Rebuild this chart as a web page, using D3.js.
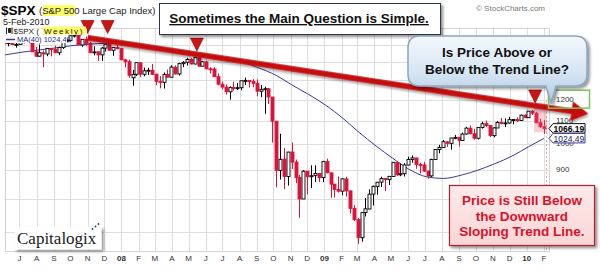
<!DOCTYPE html>
<html>
<head>
<meta charset="utf-8">
<title>$SPX weekly</title>
<script src="https://cdnjs.cloudflare.com/ajax/libs/d3/7.8.5/d3.min.js"></script>
<style>
  body { margin: 0; background: #fff; }
  svg { display: block; font-family: "Liberation Sans", Arial, sans-serif; }
</style>
</head>
<body>
<svg id="chart" width="600" height="271"></svg>
<script>
// weekly bars, one per week (monday), jun 2007 .. feb 2010
const firstWeek = new Date(2007, 5, 4);
const opens = [1536,1509,1533,1502,1504,1531,1553,1534,1459,1433,1453,1446,1479,1474,1453,1484,1526,1527,1557,1562,1500,1536,1509,1454,1459,1441,1481,1505,1468,1484,1478,
  1412,1401,1312,1331,1395,1331,1350,1353,1331,1293,1288,1330,1315,1370,1333,1390,1398,1414,1388,1425,1376,1400,1361,1360,1318,1278,1263,1239,1261,1258,1260,1296,1298,1292,1283,1242,1251,1255,1213,1099,899,941,877,969,930,873,800,896,876,880,888,873,
  932,890,850,832,826,868,827,770,735,683,757,768,816,842,857,870,866,877,929,883,887,919,940,946,921,919,896,879,940,979,987,1010,1004,1026,1029,1016,1043,1068,1044,1025,1071,1088,1080,1036,1069,1093,1091,1091,1106,1106,1102,1126,
  1115,1145,1136,1092,1074];
const highs = [1540,1538,1540,1514,1532,1555,1555,1547,1488,1503,1466,1480,1481,1496,1489,1530,1538,1561,1576,1565,1536,1552,1521,1492,1460,1488,1508,1523,1485,1500,1478,
  1417,1413,1355,1396,1396,1368,1367,1388,1335,1321,1341,1357,1381,1380,1395,1404,1423,1422,1440,1427,1406,1405,1370,1370,1336,1292,1277,1267,1291,1285,1298,1313,1300,1305,1303,1274,1265,1255,1213,1099,1044,985,970,1007,940,883,900,896,918,918,888,935,
  943,891,851,877,870,876,827,780,740,758,803,832,845,857,876,871,878,930,933,925,926,951,956,946,928,931,898,943,980,998,1018,1013,1027,1039,1029,1049,1074,1080,1065,1071,1097,1102,1081,1072,1100,1113,1112,1119,1107,1117,1129,1130,
  1145,1150,1142,1110,1104];
const lows = [1487,1492,1500,1484,1503,1510,1529,1458,1430,1430,1370,1433,1432,1450,1439,1476,1516,1521,1546,1500,1489,1492,1450,1438,1406,1406,1460,1467,1435,1475,1411,
  1370,1312,1270,1322,1317,1320,1327,1329,1273,1257,1256,1313,1312,1330,1324,1370,1379,1386,1386,1373,1373,1359,1335,1317,1272,1252,1225,1200,1245,1248,1247,1274,1261,1263,1217,1212,1133,1179,1007,839,866,833,845,904,853,741,800,815,837,857,857,857,
  888,804,805,821,812,808,754,731,666,672,745,767,779,814,840,826,847,875,879,878,877,918,928,905,888,893,869,875,940,964,986,990,978,1021,991,1015,1040,1041,1019,1020,1066,1073,1030,1029,1069,1085,1073,1088,1085,1095,1102,1114,
  1115,1127,1090,1071,1044];
const closes = [1507.7,1532.9,1502.6,1503.4,1530.4,1552.5,1534.1,1458.9,1433.1,1453.6,1445.9,1479.4,1473.9,1453.6,1484.3,1525.8,1526.8,1557.6,1561.8,1500.6,1535.3,1509.7,1453.7,1458.7,1440.7,1481.1,1504.7,1467.9,1484.5,1478.5,1411.6,
  1401.0,1325.2,1330.6,1395.4,1331.3,1349.9,1353.1,1330.6,1293.4,1288.1,1329.5,1315.2,1370.4,1332.8,1390.3,1397.8,1413.9,1388.3,1425.4,1375.9,1400.4,1360.7,1360.0,1317.9,1278.4,1262.9,1239.5,1260.7,1257.8,1260.3,1296.3,1298.2,1292.2,1282.8,1242.3,1251.7,1255.1,1213.3,1099.2,899.2,940.6,876.8,968.8,930.0,873.3,800.0,896.2,876.1,879.7,887.9,872.8,931.8,
  890.4,850.1,831.9,825.9,868.6,826.8,770.0,735.1,683.4,756.6,768.5,815.9,842.5,856.6,869.6,866.2,877.5,929.2,882.9,887.0,919.1,940.1,946.2,921.2,918.9,896.4,879.1,940.4,979.3,987.5,1010.5,1004.1,1026.1,1028.9,1016.4,1042.7,1068.3,1044.4,1025.2,1071.5,1087.7,1079.6,1036.2,1069.3,1093.5,1091.4,1091.5,1106.0,1106.4,1102.5,1126.5,1115.1,
  1144.9,1136.0,1091.8,1073.9,1066.19];

// MA(40)
const maDates = ["2007-06-04","2007-07-02","2007-08-06","2007-09-03","2007-10-01","2007-11-05","2007-12-03","2008-01-07","2008-02-04","2008-03-03","2008-04-07","2008-05-05","2008-06-02","2008-07-07","2008-08-04","2008-09-01","2008-10-06","2008-11-03","2008-12-01","2009-01-05","2009-02-02","2009-03-02","2009-04-06","2009-05-04","2009-06-01","2009-07-06","2009-08-03","2009-09-07","2009-10-05","2009-11-02","2009-12-07","2010-01-04","2010-02-01"];
const maValues = [1440,1455,1470,1482,1495,1505,1510,1508,1497,1480,1455,1440,1432,1418,1400,1370,1325,1275,1230,1170,1115,1055,990,945,905,875,870,883,900,922,955,990,1024.49];

const gridTicks = [700, 800, 900, 1000, 1100, 1200, 1300, 1400, 1500];
const yLabels = [900, 1000, 1100, 1200]; // the rest sit under the boxes
const monthLetters = ["J","F","M","A","M","J","J","A","S","O","N","D"];

// hand drawn annotations (date, price)
const trendStart = {date: "2007-11-01", price: 1545};
const trendEnd = {date: "2010-04-22", price: 1133};
const peakMarks = [
  {date: "2007-11-01", price: 1572},
  {date: "2007-12-07", price: 1572},
  {date: "2008-05-16", price: 1463},
  {date: "2010-01-16", price: 1184}
];

const RED = "#dc143c";
const parse = d3.timeParse("%Y-%m-%d");
const svg = d3.select("#chart");
const plot = {left: 5, right: 549, top: 28, bottom: 251};

const x = d3.scaleTime()
  .domain([new Date(2007, 6, 2), new Date(2010, 1, 1)])
  .range([20, 544]);
const y = d3.scaleLog()
  .domain([700, 1500])
  .range([231.7, 45.0]);

const defs = svg.append("defs");
defs.append("clipPath").attr("id", "clip")
  .append("rect")
  .attr("x", plot.left).attr("y", plot.top)
  .attr("width", plot.right - plot.left).attr("height", plot.bottom - plot.top);

function shadow(id, dx, dy, sd, op) {
  defs.append("filter").attr("id", id)
    .attr("x", "-20%").attr("y", "-20%").attr("width", "140%").attr("height", "150%")
    .append("feDropShadow")
    .attr("dx", dx).attr("dy", dy).attr("stdDeviation", sd)
    .attr("flood-color", "#000").attr("flood-opacity", op);
}
shadow("sh", 2, 2, 1.5, 0.45);
shadow("shLine", 1, 2, 1.2, 0.35);

const blue = defs.append("linearGradient").attr("id", "blueGrad")
  .attr("x1", 0).attr("y1", 0).attr("x2", 0).attr("y2", 1);
blue.append("stop").attr("offset", "0%").attr("stop-color", "#f3f8fd");
blue.append("stop").attr("offset", "55%").attr("stop-color", "#d6e5f3");
blue.append("stop").attr("offset", "100%").attr("stop-color", "#aec8e2");

const pink = defs.append("linearGradient").attr("id", "pinkGrad")
  .attr("x1", 0).attr("y1", 0).attr("x2", 0).attr("y2", 1);
pink.append("stop").attr("offset", "0%").attr("stop-color", "#fdeaea");
pink.append("stop").attr("offset", "100%").attr("stop-color", "#fbd6d6");

// grid
const months = d3.timeMonth.range(new Date(2007, 5, 1), new Date(2010, 2, 1))
  .filter(d => x(d) > plot.left && x(d) < plot.right);
const grid = svg.append("g");
grid.selectAll("line.v").data(months).join("line")
  .attr("x1", d => Math.round(x(d)) + 0.5).attr("x2", d => Math.round(x(d)) + 0.5)
  .attr("y1", plot.top).attr("y2", plot.bottom)
  .attr("stroke", "#dedede").attr("stroke-width", 1);
grid.selectAll("line.h").data(gridTicks).join("line")
  .attr("x1", plot.left).attr("x2", plot.right)
  .attr("y1", d => Math.round(y(d)) + 0.5).attr("y2", d => Math.round(y(d)) + 0.5)
  .attr("stroke", "#dedede").attr("stroke-width", 1);

svg.append("rect")
  .attr("x", plot.left + 0.5).attr("y", plot.top + 0.5)
  .attr("width", plot.right - plot.left).attr("height", plot.bottom - plot.top)
  .attr("fill", "none").attr("stroke", "#a8a8a8").attr("stroke-dasharray", "1,1");

// x labels
svg.append("g").selectAll("text").data(months.filter(d => x(d) < plot.right - 2)).join("text")
  .attr("x", d => x(d)).attr("y", 261)
  .attr("text-anchor", "middle")
  .attr("font-size", 8)
  .attr("font-weight", d => d.getMonth() === 0 ? "bold" : "normal")
  .attr("fill", "#333")
  .text(d => d.getMonth() === 0 ? d3.timeFormat("%y")(d) : monthLetters[d.getMonth()]);

// y labels
svg.append("g").selectAll("text").data(yLabels).join("text")
  .attr("x", 556).attr("y", d => y(d) + 2)
  .attr("font-size", 8).attr("fill", "#333")
  .text(d => d);

const chart = svg.append("g").attr("clip-path", "url(#clip)");

// today line
chart.append("line")
  .attr("x1", 546.5).attr("x2", 546.5)
  .attr("y1", 100).attr("y2", plot.bottom)
  .attr("stroke", "#f2a4ad").attr("stroke-dasharray", "2,2");

// moving average
const ma = maDates.map((d, i) => ({date: parse(d), v: maValues[i]}));
chart.append("path").datum(ma)
  .attr("fill", "none").attr("stroke", "#3b3b9a").attr("stroke-width", 1)
  .attr("d", d3.line().x(d => x(d.date)).y(d => y(d.v)).curve(d3.curveMonotoneX));

// candles
const weeks = d3.timeMonday.range(firstWeek, d3.timeDay.offset(firstWeek, 7 * closes.length));
const bars = weeks.map((d, i) => ({
  date: d, o: opens[i], h: highs[i], l: lows[i], c: closes[i],
  prev: i ? closes[i - 1] : opens[i]
}));
const col = d => d.c >= d.prev ? "#000" : RED;
const cx = d => Math.round(x(d.date)) + 0.5;

chart.selectAll("line.wick").data(bars).join("line")
  .attr("x1", cx).attr("x2", cx)
  .attr("y1", d => y(d.h)).attr("y2", d => y(d.l))
  .attr("stroke", col).attr("stroke-width", 1);
chart.selectAll("rect.body").data(bars).join("rect")
  .attr("x", d => cx(d) - 1.5).attr("width", 3)
  .attr("y", d => y(Math.max(d.o, d.c)))
  .attr("height", d => Math.max(1, Math.abs(y(d.o) - y(d.c))))
  .attr("fill", d => d.c >= d.o ? "#fff" : col(d))
  .attr("stroke", col).attr("stroke-width", 0.9);

// highlight on the last weeks
chart.append("rect")
  .attr("x", x(new Date(2010, 0, 14))).attr("width", 547 - x(new Date(2010, 0, 14)))
  .attr("y", y(1185)).attr("height", y(1050) - y(1185))
  .attr("fill", "#f06070").attr("opacity", 0.3);

// trend line with arrow
const tx0 = x(parse(trendStart.date)), ty0 = y(trendStart.price);
const tx1 = x(parse(trendEnd.date)), ty1 = y(trendEnd.price);
const ang = Math.atan2(ty1 - ty0, tx1 - tx0) * 180 / Math.PI;
const len = Math.hypot(tx1 - tx0, ty1 - ty0);
const trend = svg.append("g")
  .attr("transform", `translate(${tx0},${ty0}) rotate(${ang})`)
  .attr("filter", "url(#shLine)");
trend.append("line")
  .attr("x1", 0).attr("y1", 0).attr("x2", len - 15).attr("y2", 0)
  .attr("stroke", "#c4100f").attr("stroke-width", 5.5);
trend.append("path")
  .attr("d", `M${len - 17},-10 L${len},0 L${len - 17},10 Z`)
  .attr("fill", "#c4100f");

// peak markers
svg.append("g").selectAll("path").data(peakMarks).join("path")
  .attr("transform", d => `translate(${x(parse(d.date))},${y(d.price)})`)
  .attr("d", "M-6.5,-13 L6.5,-13 L0,0 Z")
  .attr("fill", "#cc1414").attr("stroke", "#8a0000").attr("stroke-width", 0.6);

// last price labels
const last = bars[bars.length - 1];
function priceTag(v, yy, opts) {
  const g = svg.append("g");
  g.append("path")
    .attr("d", `M549,${yy} L553,${yy - 5} H${opts.w} V${yy + 4.5} H553 Z`)
    .attr("fill", "#fff").attr("stroke", opts.stroke).attr("stroke-width", 1);
  g.append("text").attr("x", 553.5).attr("y", yy + 3.2)
    .attr("font-size", 8.5).attr("font-weight", opts.bold ? "bold" : "normal")
    .attr("fill", opts.fill).text(d3.format(".2f")(v));
}
priceTag(last.c, y(last.c), {w: 585, stroke: "#111", fill: "#000", bold: true});
priceTag(maValues[maValues.length - 1], y(maValues[maValues.length - 1]), {w: 585, stroke: "#3b3b9a", fill: "#222255", bold: false});

// green box round 1200
svg.append("rect")
  .attr("x", 548.5).attr("y", y(1200) - 9.5).attr("width", 41).attr("height", 18)
  .attr("fill", "none").attr("stroke", "#7cc55c").attr("stroke-width", 1.5);

// title
svg.append("text").attr("x", 1).attr("y", 14.5)
  .attr("font-size", 13.5).attr("font-weight", "bold").text("$SPX");
svg.append("rect").attr("x", 43).attr("y", 5).attr("width", 32).attr("height", 11).attr("fill", "#fdfd6a");
svg.append("text").attr("x", 39).attr("y", 14).attr("font-size", 9.5).attr("fill", "#222")
  .text("(S&P 500 Large Cap Index)");
svg.append("text").attr("x", 3).attr("y", 25).attr("font-size", 9).attr("fill", "#222").text("5-Feb-2010");
svg.append("text").attr("x", 476).attr("y", 11).attr("font-size", 8).attr("fill", "#777").text("\u00a9 StockCharts.com");

// legend
const leg = svg.append("g");
leg.append("rect").attr("x", 5).attr("y", 28.5).attr("width", 82).attr("height", 6.5).attr("fill", "#fff");
leg.append("rect").attr("x", 5).attr("y", 35).attr("width", 62).attr("height", 8).attr("fill", "#fff");
leg.append("rect").attr("x", 43).attr("y", 26.5).attr("width", 43).attr("height", 8).attr("fill", "#fdfd6a");
leg.append("path").attr("d", "M6.5,27.5 V34 M8.5,28.5 h2 v4 h-2 Z M12,27.5 V34").attr("stroke", "#222").attr("stroke-width", 1).attr("fill", "#222");
leg.append("text").attr("x", 13.5).attr("y", 33.5).attr("font-size", 8).attr("fill", "#222")
  .text("$SPX (");
leg.append("text").attr("x", 44).attr("y", 33.5).attr("font-size", 8).attr("fill", "#222")
  .attr("letter-spacing", 1.6).text("Weekly)");
leg.append("line").attr("x1", 6).attr("x2", 15).attr("y1", 39.5).attr("y2", 39.5).attr("stroke", "#3b3b9a").attr("stroke-width", 1.5);
leg.append("text").attr("x", 17).attr("y", 42).attr("font-size", 7.5).attr("fill", "#2b2b88")
  .text("MA(40) 1024.49");

// headline box
svg.append("rect").attr("x", 159.5).attr("y", 3.5).attr("width", 281).attr("height", 31)
  .attr("fill", "#fff").attr("stroke", "#2d3446").attr("stroke-width", 1).attr("filter", "url(#sh)");
svg.append("text").attr("x", 299).attr("y", 23).attr("text-anchor", "middle")
  .attr("font-size", 13.5).attr("font-weight", "bold").attr("text-decoration", "underline")
  .attr("fill", "#111").text("Sometimes the Main Question is Simple.");

// question callout
const c0 = 408, c1 = 587, d0 = 36, d1 = 86, r = 12;
svg.append("path")
  .attr("d", `M${c0 + r},${d0} H${c1 - r} Q${c1},${d0} ${c1},${d0 + r} V${d1 - r} Q${c1},${d1} ${c1 - r},${d1} H556 L551,103 L546,${d1} H${c0 + r} Q${c0},${d1} ${c0},${d1 - r} V${d0 + r} Q${c0},${d0} ${c0 + r},${d0} Z`)
  .attr("fill", "url(#blueGrad)").attr("stroke", "#8ea6bf").attr("stroke-width", 1.5)
  .attr("filter", "url(#sh)");
svg.append("text").attr("x", 497).attr("y", 57).attr("text-anchor", "middle")
  .attr("font-size", 13.5).attr("font-weight", "bold").attr("fill", "#111").text("Is Price Above or");
svg.append("text").attr("x", 497).attr("y", 74).attr("text-anchor", "middle")
  .attr("font-size", 13.5).attr("font-weight", "bold").attr("fill", "#111").text("Below the Trend Line?");

// red answer box
svg.append("rect").attr("x", 449.5).attr("y", 185.5).attr("width", 145).attr("height", 60)
  .attr("fill", "url(#pinkGrad)").attr("stroke", "#b3242c").attr("stroke-width", 1.2)
  .attr("filter", "url(#sh)");
["Price is Still Below", "the Downward", "Sloping Trend Line."].forEach((t, i) => {
  svg.append("text").attr("x", 522).attr("y", 205 + i * 15.5).attr("text-anchor", "middle")
    .attr("font-size", 13.5).attr("font-weight", "bold").attr("fill", "#d4142c").text(t);
});

// logo
svg.append("rect").attr("x", 14.5).attr("y", 226.5).attr("width", 87).attr("height", 23)
  .attr("fill", "#fff").attr("filter", "url(#sh)");
svg.append("text").attr("x", 17).attr("y", 243.5)
  .attr("font-family", "'Liberation Serif', 'Times New Roman', serif")
  .attr("font-size", 17).attr("fill", "#1a1a1a").text("Capitalogix");
svg.append("g").selectAll("circle").data([[92.5, 229], [95.5, 226.5], [98.5, 224]]).join("circle")
  .attr("cx", d => d[0]).attr("cy", d => d[1]).attr("r", 0.9).attr("fill", "#23358a");
</script>
</body>
</html>
